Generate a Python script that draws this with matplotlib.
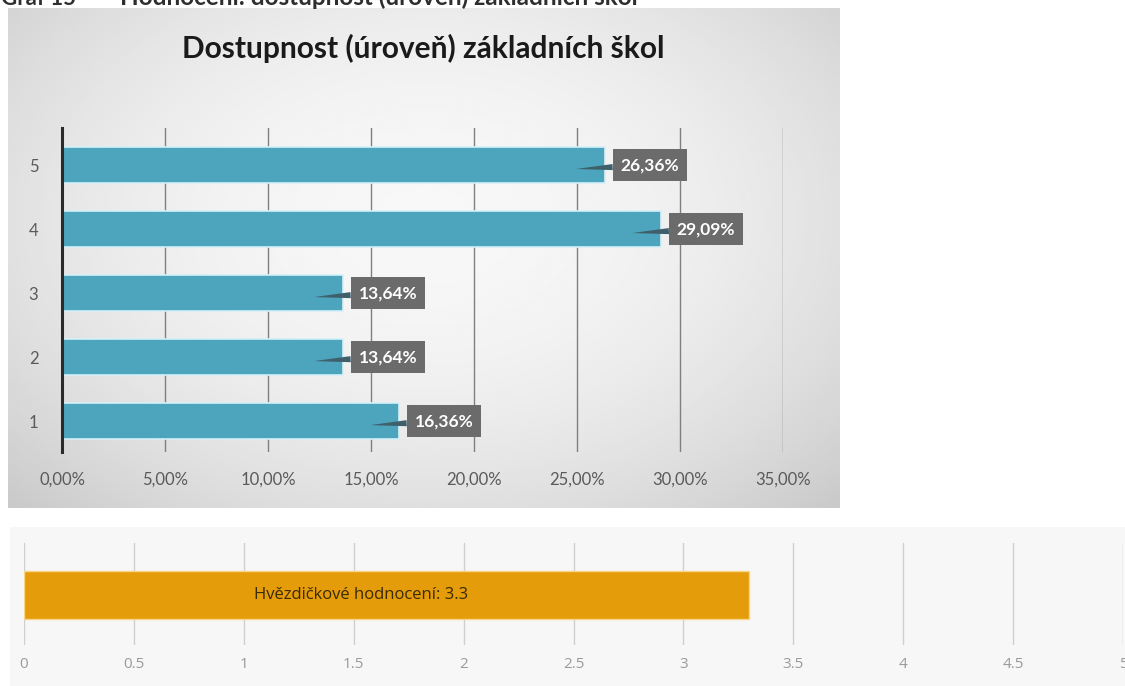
import matplotlib.pyplot as plt
import numpy as np

# --- Data ---
levels = ["1", "2", "3", "4", "5"]
shares = [16.36, 13.64, 13.64, 29.09, 26.36]
share_ticks = [0, 5, 10, 15, 20, 25, 30, 35]
rating_label = "Hvězdičkové hodnocení"
rating = 3.3
rating_ticks = [0, 0.5, 1, 1.5, 2, 2.5, 3, 3.5, 4, 4.5, 5]

caption_no = "Graf 15 –"
caption = "Hodnocení: dostupnost (úroveň) základních škol"
title = "Dostupnost (úroveň) základních škol"

W, H = 1125, 686
plt.rcParams["font.family"] = ["Lato", "DejaVu Sans"]
fig = plt.figure(figsize=(W / 100, H / 100), dpi=100)


def px_box(x0, y0, x1, y1):
    # pixel box (top-left origin) -> figure fraction rect
    return [x0 / W, 1 - y1 / H, (x1 - x0) / W, (y1 - y0) / H]


# --- Caption, cut off by the top edge ---
fig.text(1 / W, 1 - 5 / H, caption_no, fontsize=16, fontweight="bold",
         color="#2e2e2e", ha="left", va="baseline")
fig.text(120 / W, 1 - 5 / H, caption, fontsize=17.5, fontweight="bold",
         color="#2e2e2e", ha="left", va="baseline")

# --- Top panel: grey gradient background ---
bg = fig.add_axes(px_box(8, 8, 840, 508))
yy, xx = np.mgrid[0:1:200j, 0:1:300j]
r = np.sqrt(((xx - 0.5) / 0.75) ** 2 + ((yy - 0.42) / 0.85) ** 2)
bg.imshow(0.97 - 0.2 * r ** 2, cmap="gray", vmin=0, vmax=1, aspect="auto",
          extent=[0, 1, 0, 1])
bg.set_axis_off()

ax = fig.add_axes(px_box(62, 128, 783, 452))
ax.patch.set_alpha(0)
y = np.arange(1, len(levels) + 1)
ax.barh(y, shares, height=0.56, color="#4da4bd", edgecolor="#d4f1f7",
        linewidth=1.2, zorder=3)
ax.set_xlim(0, 35)
ax.set_ylim(0.52, 5.58)
ax.set_xticks(share_ticks)
ax.set_xticklabels([f"{t:.2f}%".replace(".", ",") for t in share_ticks],
                   color="#5a5a5a", fontsize=12)
ax.set_yticks(y)
ax.set_yticklabels(levels, color="#5a5a5a", fontsize=12)
ax.tick_params(length=0, pad=14)
ax.tick_params(axis="y", pad=17)
ax.xaxis.grid(True, color="#7f7f7f", linewidth=1.0, zorder=1)
for side in ["top", "right", "bottom"]:
    ax.spines[side].set_visible(False)
ax.spines["left"].set_color("#2a2a2a")
ax.spines["left"].set_linewidth(2.2)
ax.spines["left"].set_zorder(4)

for yi, v in zip(y, shares):
    ax.annotate(f"{v:.2f}%".replace(".", ","), xy=(v - 1.4, yi - 0.06),
                xytext=(v + 0.75, yi), ha="left", va="center", fontsize=12.5,
                fontweight="bold", color="white", zorder=5,
                bbox=dict(boxstyle="square,pad=0.45", fc="#6b6b6b", ec="none"),
                arrowprops=dict(arrowstyle="wedge,tail_width=0.35",
                                fc="#3f5f6a", ec="none", shrinkA=0, shrinkB=0))

fig.text(423 / W, 1 - 48 / H, title, fontsize=21.5, fontweight="bold",
         color="#1a1a1a", ha="center", va="center")

# --- Bottom panel: star rating ---
bg2 = fig.add_axes(px_box(10, 527, W, H))
bg2.set_facecolor("#f7f7f7")
bg2.set_xticks([])
bg2.set_yticks([])
for s in bg2.spines.values():
    s.set_visible(False)

ax2 = fig.add_axes(px_box(24, 543, 1123, 645))
ax2.patch.set_alpha(0)
ax2.barh([0.49], [rating], height=0.47, color="#e59c0b", edgecolor="#f7d58a",
         linewidth=1.0, zorder=3)
ax2.text(rating * 0.465, 0.49, f"{rating_label}: {rating}", ha="center",
         va="center", fontsize=12, color="#3a2a05",
         family=["Open Sans", "DejaVu Sans"], zorder=4)
ax2.set_xlim(0, 5)
ax2.set_ylim(0, 1)
ax2.set_xticks(rating_ticks)
ax2.set_xticklabels([f"{t:g}" for t in rating_ticks], color="#9a9a9a",
                    fontsize=11, family=["Open Sans", "DejaVu Sans"])
ax2.set_yticks([])
ax2.tick_params(length=0, pad=9)
ax2.xaxis.grid(True, color="#cfcfcf", linewidth=1.0, zorder=1)
for s in ax2.spines.values():
    s.set_visible(False)

fig.savefig("out.png", dpi=100)
